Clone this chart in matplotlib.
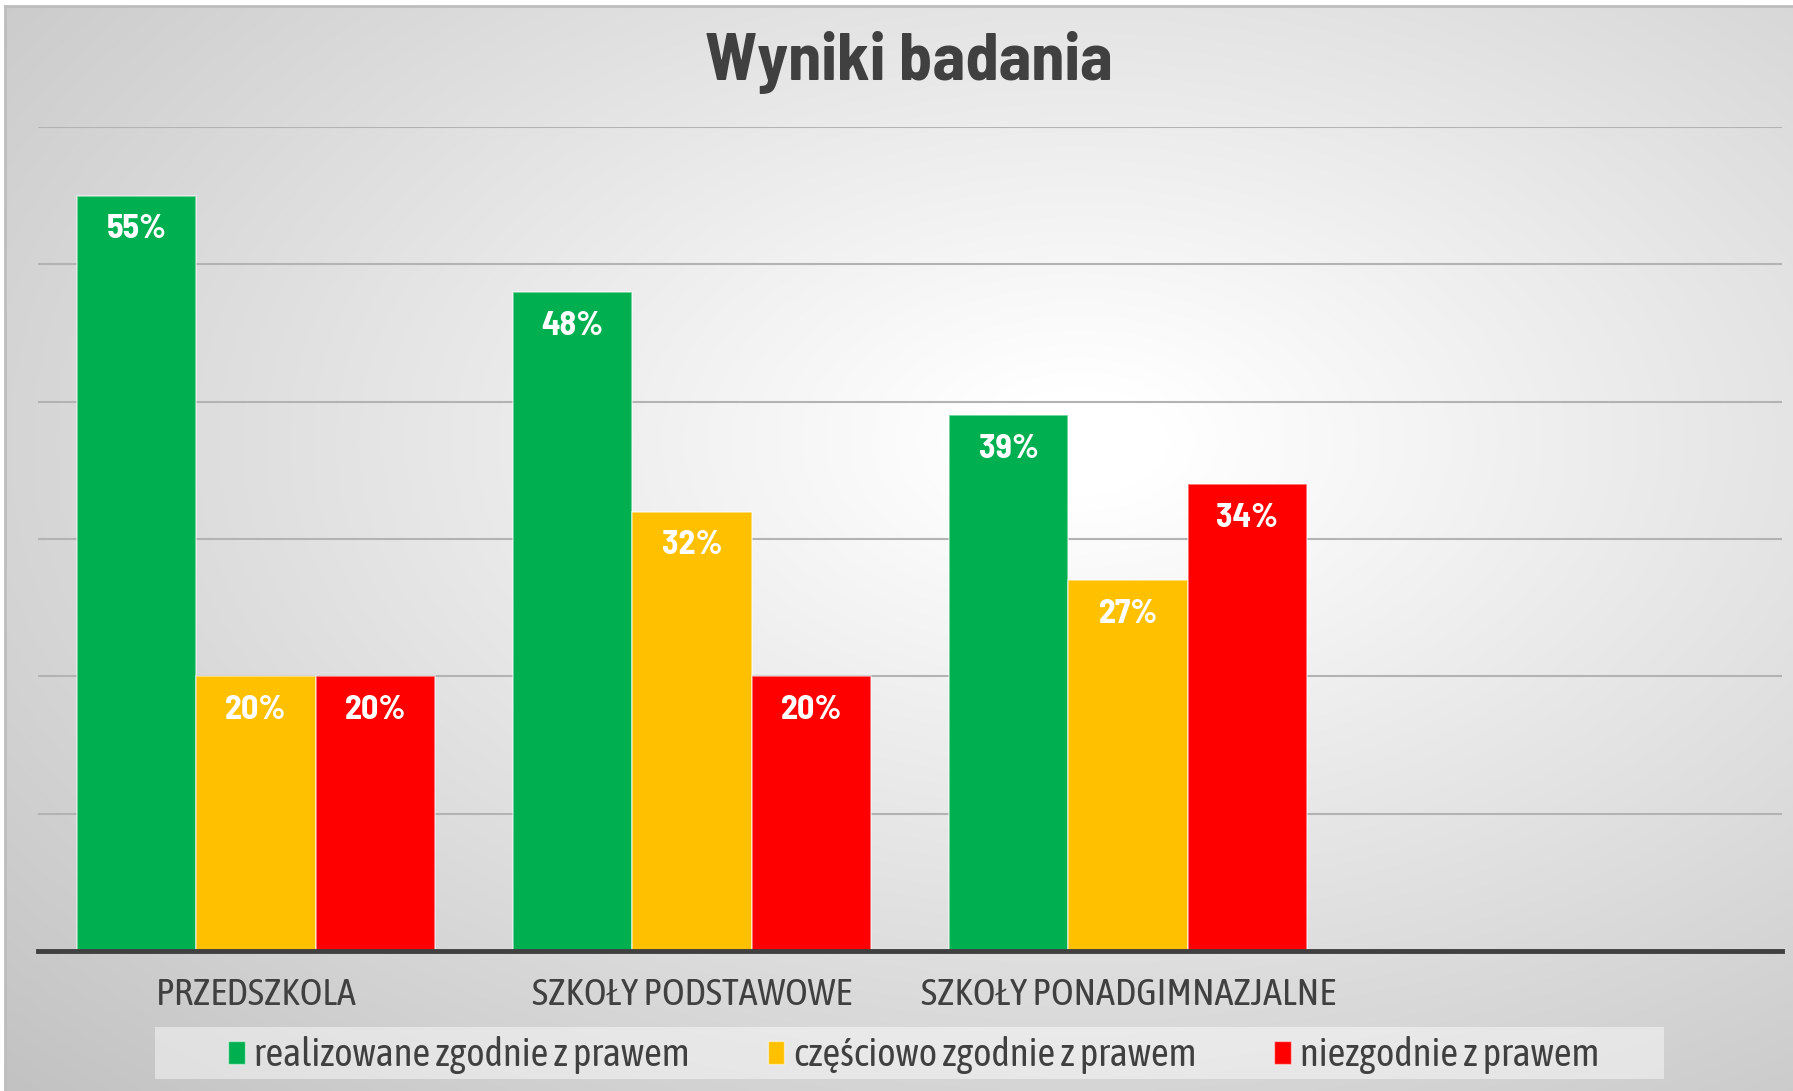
import numpy as np
import matplotlib
matplotlib.use("Agg")
import matplotlib.pyplot as plt
from matplotlib.patches import Patch, Rectangle
from matplotlib.ticker import MultipleLocator

plt.rcParams['font.family'] = ['Asap Condensed', 'DejaVu Sans']
BOLD_FAMILY = ['Barlow Semi Condensed', 'DejaVu Sans']

title = "Wyniki badania"
categories = ["PRZEDSZKOLA", "SZKOŁY PODSTAWOWE", "SZKOŁY PONADGIMNAZJALNE", ""]
series_names = ["realizowane zgodnie z prawem", "częściowo zgodnie z prawem", "niezgodnie z prawem"]
realizowane = [0.55, 0.48, 0.39, np.nan]
czesciowo = [0.20, 0.32, 0.27, np.nan]
niezgodnie = [0.20, 0.20, 0.34, np.nan]
series = [realizowane, czesciowo, niezgodnie]
colors = ["#00B050", "#FFC000", "#FF0000"]

W, H = 1793, 1091
fig = plt.figure(figsize=(W / 100, H / 100), dpi=100)

# background radial gradient
bg = fig.add_axes([5 / W, 0, 1 - 5 / W, 1 - 6 / H])
bg.set_axis_off()
ny, nx = 300, 500
yy, xx = np.mgrid[0:ny, 0:nx]
cx, cy = 0.60 * nx, 0.40 * ny
r = np.sqrt(((xx - cx) / (0.60 * nx)) ** 2 + ((yy - cy) / (0.60 * ny)) ** 2) / np.sqrt(2)
t = np.clip((r - 0.06) / 0.94, 0, 1)
val = 1.0 - (1.0 - 0.76) * t ** 1.0
img = np.dstack([val, val, val])
bg.imshow(img, extent=[0, 1, 0, 1], aspect='auto', origin='upper', interpolation='bilinear')
bg.set_xlim(0, 1)
bg.set_ylim(0, 1)
fig.add_artist(plt.Line2D([5 / W, 1], [1 - 6 / H, 1 - 6 / H], color="#bdbdbd", lw=2, transform=fig.transFigure))
fig.add_artist(plt.Line2D([5 / W, 5 / W], [0, 1 - 6 / H], color="#bdbdbd", lw=2, transform=fig.transFigure))

ax = fig.add_axes([38 / W, 140 / H, (1782 - 38) / W, (951 - 127) / H])
ax.patch.set_alpha(0)
x = np.arange(len(categories))
bw = 0.274
for i, (vals, c) in enumerate(zip(series, colors)):
    xs = x + (i - 1) * bw
    ax.bar(xs, vals, width=bw, color=c, edgecolor=(1, 1, 1, 0.55), linewidth=1.2, zorder=3)
    for xi, v in zip(xs, vals):
        if np.isfinite(v):
            ax.annotate(f"{int(round(v * 100))}%", (xi, v), xytext=(0, -13.5), textcoords="offset points",
                        ha="center", va="top", color="white", fontsize=24.5, fontweight="bold",
                        family=BOLD_FAMILY, zorder=4)

ax.set_xlim(-0.5, 3.5)
ax.set_ylim(0, 0.6)
ax.yaxis.set_major_locator(MultipleLocator(0.1))
ax.grid(axis="y", color="#b3b3b3", lw=1.5, zorder=0)
ax.set_yticklabels([])
ax.tick_params(axis="y", length=0)
ax.tick_params(axis="x", length=0, pad=19, labelsize=27.5, labelcolor="#404040")
ax.set_xticks(x)
ax.set_xticklabels(categories)
for s in ["top", "right", "left"]:
    ax.spines[s].set_visible(False)
ax.spines["bottom"].set_color("#404040")
ax.spines["bottom"].set_linewidth(3.5)
ax.spines["bottom"].set_zorder(5)

fig.text(909 / W, 1 - 63 / H, title, ha="center", va="center", fontsize=48, fontweight="bold",
         color="#404040", family=BOLD_FAMILY)

fig.add_artist(Rectangle((155 / W, 12 / H), (1664 - 155) / W, 52 / H, transform=fig.transFigure,
                         facecolor=(1, 1, 1, 0.45), edgecolor="none"))
handles = [Patch(facecolor=c, edgecolor=(1, 1, 1, 0.5)) for c in colors]
fig.legend(handles, series_names, loc="center", bbox_to_anchor=(914 / W, 36 / H), ncol=3,
           frameon=False, fontsize=28, handlelength=0.42, handleheight=0.55, handletextpad=0.25,
           columnspacing=2.0, labelcolor="#404040")

fig.savefig("out.png", dpi=100)
